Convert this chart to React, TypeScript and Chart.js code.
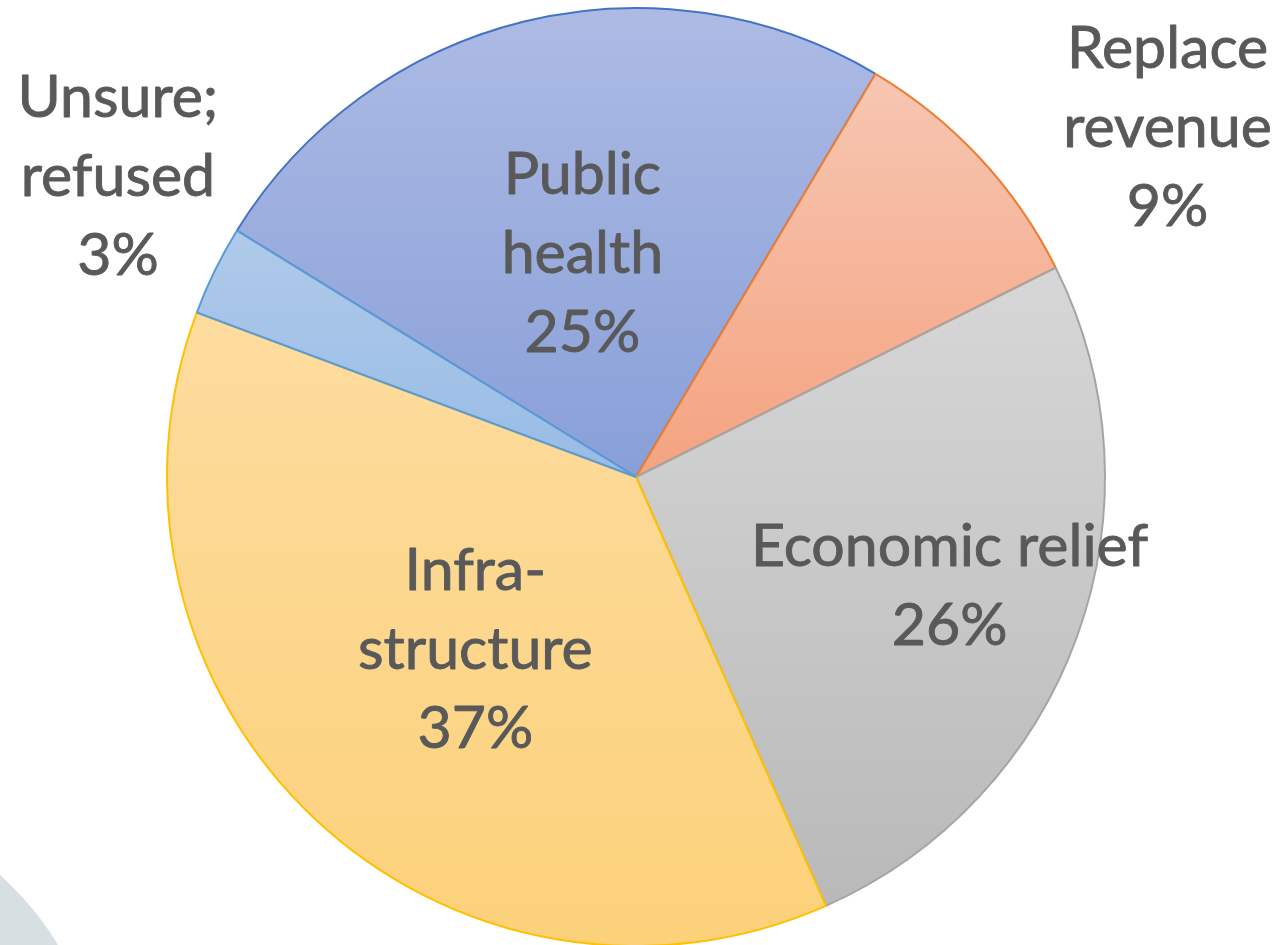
import React, { useEffect, useRef } from "react";
import { Chart, registerables } from "chart.js";

Chart.register(...registerables);

// ---- data ----
const categories = ["Public health", "Replace revenue", "Economic relief", "Infrastructure", "Unsure; refused"];
const labelLines = [["Public", "health"], ["Replace", "revenue"], ["Economic relief"], ["Infra-", "structure"], ["Unsure;", "refused"]];
const shares = [24.7, 9.1, 25.7, 37.3, 3.1];

// ---- styles ----
const borderColors = ["#4472C4", "#ED7D31", "#A5A5A5", "#FFC000", "#5B9BD5"];
const gradientTop = ["#ADBBE4", "#F7C6B2", "#D7D7D7", "#FDDC9F", "#AFCAEA"];
const gradientBottom = ["#889FD8", "#F4A380", "#B9B9B9", "#FCD17A", "#98BBE5"];

// ---- layout ----
const ROTATION = -58.3;
const RADIUS = 469;
const labelRadius = [0.49, 1.356, 0.708, 0.503, 1.277];
const labelAngleShift = [0.3, 9.6, -0.6, -0.4, 4.0];
const FONT_FAMILY = "Lato, 'Open Sans', sans-serif";
const FONT_SIZE = 59;
const LINE_HEIGHT = 79;
const TEXT_COLOR = "#595959";

function sliceGradient(chart: any, i: number) {
  const area = chart.chartArea;
  if (!area) return gradientBottom[i];
  const cy = (area.top + area.bottom) / 2;
  const total = shares.reduce((a, b) => a + b, 0);
  let start = (ROTATION * Math.PI) / 180 - Math.PI / 2;
  for (let k = 0; k < i; k++) start += (shares[k] / total) * 2 * Math.PI;
  const end = start + (shares[i] / total) * 2 * Math.PI;
  const ys = [cy, cy + RADIUS * Math.sin(start), cy + RADIUS * Math.sin(end)];
  for (const a of [-Math.PI / 2, Math.PI / 2, (3 * Math.PI) / 2, (-3 * Math.PI) / 2]) {
    if (a > start && a < end) ys.push(cy + RADIUS * Math.sin(a));
  }
  const y0 = Math.min(...ys);
  const y1 = Math.max(...ys);
  const g = chart.ctx.createLinearGradient(0, y0, 0, y1);
  g.addColorStop(0, gradientTop[i]);
  g.addColorStop(1, gradientBottom[i]);
  return g;
}

const labelPlugin = {
  id: "sliceLabels",
  afterDatasetsDraw(chart: any) {
    const meta = chart.getDatasetMeta(0);
    const ctx = chart.ctx;
    ctx.save();
    ctx.fillStyle = TEXT_COLOR;
    ctx.strokeStyle = TEXT_COLOR;
    ctx.lineWidth = 0.9;
    ctx.lineJoin = "round";
    ctx.font = `${FONT_SIZE}px ${FONT_FAMILY}`;
    ctx.textAlign = "center";
    ctx.textBaseline = "middle";
    meta.data.forEach((arc: any, i: number) => {
      const p = arc.getProps(["x", "y", "startAngle", "endAngle", "outerRadius"], true);
      const mid = (p.startAngle + p.endAngle) / 2 + (labelAngleShift[i] * Math.PI) / 180;
      const r = p.outerRadius * labelRadius[i];
      const cx = p.x + Math.cos(mid) * r;
      const cy = p.y + Math.sin(mid) * r;
      const lines = [...labelLines[i], `${Math.round(shares[i])}%`];
      const top = cy - ((lines.length - 1) * LINE_HEIGHT) / 2;
      lines.forEach((ln, j) => {
        ctx.fillText(ln, cx, top + j * LINE_HEIGHT);
        ctx.strokeText(ln, cx, top + j * LINE_HEIGHT);
      });
    });
    ctx.restore();
  },
};

export default function App() {
  const ref = useRef<HTMLCanvasElement | null>(null);
  useEffect(() => {
    document.body.style.margin = "0";
    const chart = new Chart(ref.current as HTMLCanvasElement, {
      type: "pie",
      data: {
        labels: categories,
        datasets: [
          {
            data: shares,
            backgroundColor: (c: any) => sliceGradient(c.chart, c.dataIndex),
            borderColor: borderColors,
            borderWidth: 2,
            radius: RADIUS,
            clip: false,
          } as any,
        ],
      },
      options: {
        animation: false,
        responsive: true,
        maintainAspectRatio: false,
        rotation: ROTATION,
        layout: { padding: { left: 0, right: 9, top: 9, bottom: 0 } },
        plugins: { legend: { display: false }, tooltip: { enabled: false } },
      },
      plugins: [labelPlugin],
    });
    return () => chart.destroy();
  }, []);
  return (
    <div style={{ position: "fixed", left: 0, top: 0, width: 1281, height: 945, overflow: "hidden", background: "#ffffff" }}>
      <div
        style={{
          position: "absolute",
          left: -501,
          top: 799,
          width: 602,
          height: 602,
          borderRadius: "50%",
          background: "#D8DFE3",
        }}
      />
      <div style={{ position: "absolute", left: 0, top: 0, width: 1281, height: 945 }}>
        <canvas ref={ref} />
      </div>
    </div>
  );
}
